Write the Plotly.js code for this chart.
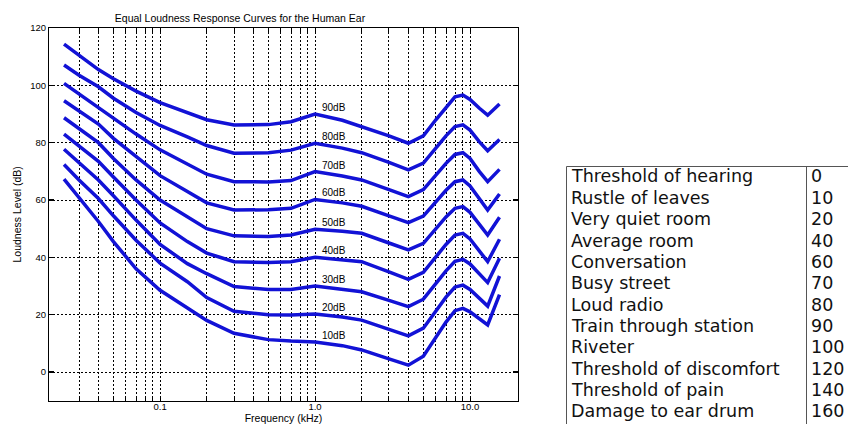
<!DOCTYPE html>
<html>
<head>
<meta charset="utf-8">
<script src="https://cdn.plot.ly/plotly-3.0.1.min.js"></script>
<style>html,body{margin:0;padding:0;background:#fff;}#chart{width:848px;height:424px;}</style>
</head>
<body>
<div id="chart"></div>
<script>
// ---- data ----
const freqKHz = [0.024, 0.03, 0.04, 0.05, 0.07, 0.1, 0.15, 0.2, 0.3, 0.5, 0.7, 1, 1.5, 2, 3, 4, 5, 6, 7, 8, 9, 10, 11.5, 13, 15.5];

const curveLevels = [90, 80, 70, 60, 50, 40, 30, 20, 10];
const curve90 = [114.4, 110.5, 105.5, 102.3, 98, 94, 90.5, 88, 86.2, 86.3, 87.3, 90, 87.8, 85.6, 82.4, 79.8, 82.4, 87.9, 92.5, 96, 96.6, 95.1, 92, 89.6, 93.5];
const curve80 = [107.1, 103.5, 99.5, 95.5, 90.5, 86, 82, 79, 76.3, 76.5, 77.4, 79.8, 78.1, 76.5, 73.1, 70.5, 72.9, 78.0, 82.4, 85.6, 86.2, 84.4, 80.3, 77.2, 81.1];
const curve70 = [100.7, 97, 92.5, 88.5, 83, 77.5, 72.5, 69, 66.4, 66.3, 66.8, 69.9, 68.4, 67, 63.6, 61.2, 63.6, 68.5, 72.8, 75.9, 76.5, 74.5, 69.9, 66.4, 70.7];
const curve60 = [94.6, 91, 86.5, 81.5, 75, 68.5, 63, 59, 56.5, 56.6, 57.1, 60.2, 59, 57.8, 54.5, 52.1, 54.4, 59.3, 63.4, 66.4, 67, 64.9, 60.2, 56.5, 62.1];
const curve50 = [88.7, 85, 80, 74.5, 67, 60, 54, 50, 47.5, 47.3, 47.8, 49.8, 49.1, 48.4, 45, 42.6, 44.9, 49.8, 54.1, 57.1, 57.7, 55.7, 51.3, 47.8, 54];
const curve40 = [83.0, 79, 73.5, 68, 60, 52, 45.5, 41.5, 38.5, 38.2, 38.5, 40, 39.2, 38.5, 34.9, 32.3, 34.8, 40.0, 44.5, 47.8, 48.4, 46.4, 42, 38.5, 46.3];
const curve30 = [77.7, 73, 67, 61.5, 53, 44.5, 37.8, 34.3, 29.8, 28.8, 28.8, 30, 29, 28, 25, 22.8, 25.4, 30.7, 35.3, 38.6, 39.3, 37.7, 34, 31.2, 39.7];
const curve20 = [72.4, 67, 60.5, 54.5, 46, 38, 31.5, 26, 21.2, 20, 19.9, 20.2, 19.2, 18.1, 14.9, 12.6, 15.3, 21.1, 26.1, 29.6, 30.3, 28.8, 25.6, 23, 33.5];
const curve10 = [67.3, 61, 52.5, 45.5, 36, 28.5, 22.5, 18, 13.5, 11.3, 10.8, 10.5, 9.2, 7.7, 4.6, 2.4, 5.5, 11.9, 17.4, 21.4, 22.2, 21, 18.4, 16.4, 27];
const curves = [curve90, curve80, curve70, curve60, curve50, curve40, curve30, curve20, curve10];

// axis ticks / grid
const xGridFreqs = [0.03,0.04,0.05,0.06,0.07,0.08,0.09,0.1,0.2,0.3,0.4,0.5,0.6,0.7,0.8,0.9,1,2,3,4,5,6,7,8,9,10];
const xLabelled = {0.1: '0.1', 1: '1.0', 10: '10.0'};
const yTicks = [0, 20, 40, 60, 80, 100, 120];

// table
const sources = ['Threshold of hearing','Rustle of leaves','Very quiet room','Average room','Conversation','Busy street','Loud radio','Train through station','Riveter','Threshold of discomfort','Threshold of pain','Damage to ear drum'];
const sourceDb = [0, 10, 20, 40, 60, 70, 80, 90, 100, 120, 140, 160];

// ---- figure ----
const W = 848, H = 424;
const blue = 'rgb(18,18,214)';
const traces = curves.map((c, i) => ({
  type: 'scatter', mode: 'lines', x: freqKHz, y: c,
  xaxis: 'x', yaxis: 'y',
  line: {color: blue, width: 3.5},
  hoverinfo: 'skip', name: curveLevels[i] + 'dB'
}));
traces.push({type: 'scatter', mode: 'markers', x: [0.5], y: [5], xaxis: 'x2', yaxis: 'y2', marker: {opacity: 0}, hoverinfo: 'skip'});

const annotations = [];
curveLevels.forEach((lv, i) => {
  annotations.push({
    xref: 'x', yref: 'y', x: Math.log10(1.08), y: curves[i][freqKHz.indexOf(1)] + 2.3,
    text: lv + 'dB', showarrow: false, xanchor: 'left', yanchor: 'middle',
    font: {family: 'Liberation Sans, Arial, sans-serif', size: 10, color: '#000'}
  });
});
const tableFont = {family: 'DejaVu Sans, sans-serif', size: 17.5, color: '#111'};
sources.forEach((s, i) => {
  annotations.push({xref: 'x2', yref: 'y2', x: 0.011, y: i, text: s, showarrow: false,
    xanchor: 'left', yanchor: 'middle', font: tableFont});
  annotations.push({xref: 'x2', yref: 'y2', x: 0.862, y: i, text: String(sourceDb[i]), showarrow: false,
    xanchor: 'left', yanchor: 'middle', font: tableFont});
});

const frame = {type: 'line', xref: 'paper', yref: 'paper', line: {color: '#555', width: 1}, layer: 'above'};
const shapes = [
  Object.assign({}, frame, {x0: 566.5 / W, x1: 1, y0: 1 - 166.5 / H, y1: 1 - 166.5 / H}),
  Object.assign({}, frame, {x0: 566.5 / W, x1: 566.5 / W, y0: 1 - 166.5 / H, y1: 0}),
  Object.assign({}, frame, {x0: 806.5 / W, x1: 806.5 / W, y0: 1 - 166.5 / H, y1: 0})
];

const layout = {
  width: W, height: H,
  margin: {l: 0, r: 0, t: 0, b: 0},
  paper_bgcolor: '#fff', plot_bgcolor: '#fff',
  showlegend: false,
  font: {family: 'Liberation Sans, Arial, sans-serif', size: 10, color: '#000'},
  title: {
    text: 'Equal Loudness Response Curves for the Human Ear',
    xref: 'container', yref: 'container', x: 240 / W, y: 1 - 18 / H,
    xanchor: 'center', yanchor: 'middle',
    font: {family: 'Liberation Sans, Arial, sans-serif', size: 10.5, color: '#000'}
  },
  xaxis: {
    type: 'log', domain: [49 / W, 518 / W],
    range: [Math.log10(0.0192), Math.log10(20.4)],
    tickmode: 'array', tickvals: xGridFreqs,
    ticktext: xGridFreqs.map(v => xLabelled[v] || ''),
    showgrid: true, gridcolor: '#000', griddash: '2px,2px', gridwidth: 1,
    ticks: 'inside', ticklen: 4, tickcolor: '#000', tickwidth: 1,
    showline: true, linecolor: '#000', linewidth: 1, mirror: 'ticks',
    zeroline: false, automargin: false, ticklabelstandoff: -3,
    tickfont: {size: 9.5, color: '#000'},
    title: {text: 'Frequency (kHz)', standoff: 4, font: {size: 10.5, color: '#000'}},
    anchor: 'y'
  },
  yaxis: {
    domain: [1 - 400.7 / H, 1 - 28 / H],
    range: [-10, 120],
    tickmode: 'array', tickvals: yTicks,
    showgrid: true, gridcolor: '#000', griddash: '2px,2px', gridwidth: 1,
    ticks: 'inside', ticklen: 5, tickcolor: '#000', tickwidth: 1.5,
    showline: true, linecolor: '#000', linewidth: 1, mirror: 'ticks',
    zeroline: false, automargin: false,
    tickfont: {size: 9.5, color: '#000'},
    title: {text: 'Loudness Level (dB)', standoff: 6, font: {size: 10.5, color: '#000'}},
    anchor: 'x'
  },
  xaxis2: {domain: [566 / W, 1], range: [0, 1], visible: false, anchor: 'y2', fixedrange: true},
  yaxis2: {domain: [0, 1 - 166 / H], range: [11.59, -0.49], visible: false, anchor: 'x2', fixedrange: true},
  annotations: annotations,
  shapes: shapes
};

Plotly.newPlot('chart', traces, layout, {staticPlot: true, displayModeBar: false});
</script>
</body>
</html>
